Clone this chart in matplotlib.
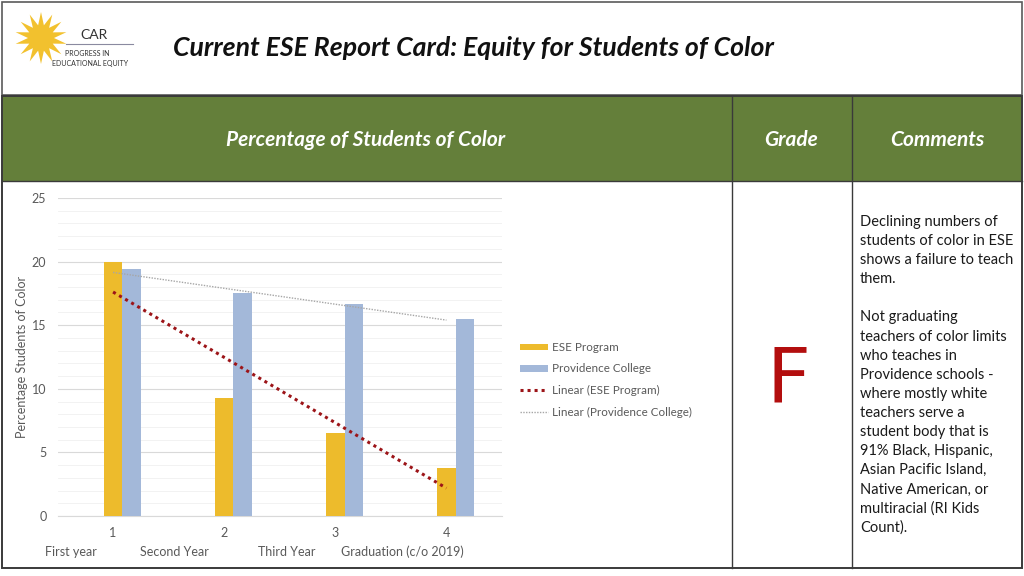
import numpy as np
import matplotlib
matplotlib.use("Agg")
import matplotlib.pyplot as plt
from matplotlib.patches import Rectangle, Polygon

plt.rcParams['font.family'] = ['Lato', 'DejaVu Sans']

# ---------------- data ----------------
categories = [1, 2, 3, 4]
year_labels = ["First year", "Second Year", "Third Year", "Graduation (c/o 2019)"]
ese_program = [20.0, 9.3, 6.5, 3.8]
providence_college = [19.4, 17.5, 16.7, 15.5]
series_names = ["ESE Program", "Providence College",
                "Linear (ESE Program)", "Linear (Providence College)"]
y_ticks = [0, 5, 10, 15, 20, 25]
title = "Current ESE Report Card: Equity for Students of Color"
header_labels = ["Percentage of Students of Color", "Grade", "Comments"]
grade = "F"
comment_lines = ["Declining numbers of", "students of color in ESE",
                 "shows a failure to teach", "them.", "",
                 "Not graduating", "teachers of color limits",
                 "who teaches in", "Providence schools -",
                 "where mostly white", "teachers serve a",
                 "student body that is", "91% Black, Hispanic,",
                 "Asian Pacific Island,", "Native American, or",
                 "multiracial (RI Kids", "Count)."]

W, H = 1024, 576
fig = plt.figure(figsize=(W / 100, H / 100), dpi=100)
bg = fig.add_axes([0, 0, 1, 1])
bg.set_xlim(0, W)
bg.set_ylim(H, 0)
bg.axis('off')

GREEN = '#647F3A'
GRAY_TXT = '#595959'

# title box
bg.add_patch(Rectangle((2, 2), 1020, 93, fill=False, ec='#5a5a5a', lw=1.2))
# table
bg.add_patch(Rectangle((2, 96), 1020, 85, fc=GREEN, ec='none'))
bg.add_patch(Rectangle((2, 96), 1020, 472, fill=False, ec='#3a3a3a', lw=1.4))
bg.plot([2, 1022], [181, 181], color='#3a3a3a', lw=1.0)
for xv in (732, 852):
    bg.plot([xv, xv], [96, 568], color='#3a3a3a', lw=1.0)

# logo star
cx, cy, r_out, r_in, n = 41, 38, 26, 13, 14
ang = np.linspace(0, 2 * np.pi, 2 * n, endpoint=False) + np.pi / 2
rad = np.where(np.arange(2 * n) % 2 == 0, r_out, r_in)
pts = np.column_stack([cx + rad * np.cos(ang), cy - rad * np.sin(ang)])
bg.add_patch(Polygon(pts, closed=True, fc='#F2C12E', ec='none'))
bg.text(94, 35, "CAR", fontsize=10, color='#333333', ha='center', va='center')
bg.plot([66, 133], [43.5, 43.5], color='#8a8aa0', lw=0.8)
bg.text(87, 53, "PROGRESS IN", fontsize=5, color='#333333', ha='center', va='center')
bg.text(90, 63.5, "EDUCATIONAL EQUITY", fontsize=5, color='#333333', ha='center', va='center')

# title
bg.text(473, 48, title, fontsize=19.2, fontweight='bold', fontstyle='italic',
        color='#111111', ha='center', va='center')

# header labels
for xc, lab in zip((366, 791, 937), header_labels):
    bg.text(xc, 140, lab, fontsize=15, fontweight='bold', fontstyle='italic',
            color='white', ha='center', va='center')

# grade
bg.text(788, 381, grade, fontsize=55, color='#B30E0E', ha='center', va='center',
        family=['DejaVu Sans'])

# comments
for i, line in enumerate(comment_lines):
    bg.text(860, 222 + i * 19.1, line, fontsize=10.5, color='#1a1a1a',
            ha='left', va='center')

# ---------------- chart ----------------
ax = fig.add_axes([57.5 / W, 60 / H, 444.5 / W, 318 / H])
x = np.array(categories, dtype=float)
bw = 0.166
b1 = ax.bar(x, ese_program, width=bw, color='#EDBB2C', label=series_names[0], zorder=3)
b2 = ax.bar(x + bw, providence_college, width=bw, color='#A3B8D9', label=series_names[1], zorder=3)

p_ese = np.polyfit(x, ese_program, 1)
p_pc = np.polyfit(x, providence_college, 1)
l1, = ax.plot(x[[0, -1]], np.polyval(p_ese, x[[0, -1]]), linestyle=(0, (1, 1.3)),
              color='#9C1418', lw=2.2, label=series_names[2], zorder=4)
l2, = ax.plot(x[[0, -1]], np.polyval(p_pc, x[[0, -1]]), linestyle=(0, (1, 1)),
              color='#A6A6A6', lw=1.0, label=series_names[3], zorder=4)

ax.set_xlim(0.5, 4.5)
ax.set_ylim(0, 25)
ax.set_yticks(y_ticks)
ax.set_yticks(np.arange(0, 26, 1), minor=True)
ax.set_xticks(x)
ax.set_xticklabels([str(c) for c in categories])
ax.grid(axis='y', which='major', color='#D9D9D9', lw=0.8, zorder=0)
ax.grid(axis='y', which='minor', color='#F0F0F0', lw=0.6, zorder=0)
for s in ('top', 'right', 'left'):
    ax.spines[s].set_visible(False)
ax.spines['bottom'].set_color('#D9D9D9')
ax.tick_params(which='both', length=0)
ax.tick_params(axis='y', pad=8, labelsize=9, labelcolor=GRAY_TXT)
ax.tick_params(axis='x', pad=8, labelsize=9, labelcolor=GRAY_TXT)
ax.set_facecolor('none')
ax.set_ylabel("Percentage Students of Color", fontsize=9, color=GRAY_TXT)
ax.yaxis.set_label_coords(-29.5 / 444.5, 0.5)

# year labels below ticks
for xl, lab in zip((45, 140, 258, 341), year_labels):
    bg.text(xl, 551.5, lab, fontsize=9, color=GRAY_TXT, ha='left', va='center')

leg = ax.legend(handles=[b1, b2, l1, l2], loc='upper left',
                bbox_to_anchor=(520 / W, 1 - 342 / H),
                bbox_transform=fig.transFigure, frameon=False, fontsize=8.4,
                labelcolor=GRAY_TXT, handlelength=2.4, handleheight=0.5,
                handletextpad=0.3, labelspacing=0.9, borderpad=0, borderaxespad=0)

fig.savefig("out.png", dpi=100)
